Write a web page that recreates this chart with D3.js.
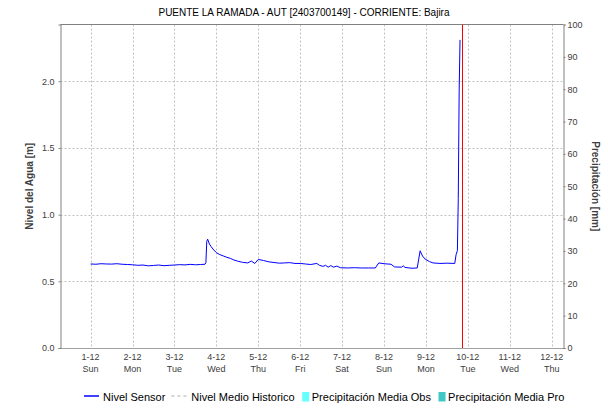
<!DOCTYPE html>
<html>
<head>
<meta charset="utf-8">
<script src="https://cdn.jsdelivr.net/npm/d3@7"></script>
<style>
  html, body { margin: 0; padding: 0; background: #fff; }
  svg { display: block; font-family: "Liberation Sans", Arial, sans-serif; }
</style>
</head>
<body>
<svg id="chart" width="608" height="411"></svg>
<script>
// Station water level (Nivel Sensor), Dec 2024
const sensorTimes = [
  "2024-12-01 00:00","2024-12-01 03:00","2024-12-01 06:00","2024-12-01 09:00","2024-12-01 12:00","2024-12-01 15:00","2024-12-01 18:00","2024-12-01 21:00",
  "2024-12-02 00:00","2024-12-02 03:00","2024-12-02 06:00","2024-12-02 09:00","2024-12-02 12:00","2024-12-02 15:00","2024-12-02 18:00","2024-12-02 21:00",
  "2024-12-03 00:00","2024-12-03 03:00","2024-12-03 06:00","2024-12-03 09:00","2024-12-03 12:00","2024-12-03 15:00","2024-12-03 17:30","2024-12-03 18:00",
  "2024-12-03 18:30","2024-12-03 19:00","2024-12-03 20:00","2024-12-03 21:00","2024-12-03 22:30",
  "2024-12-04 00:00","2024-12-04 02:00","2024-12-04 04:00","2024-12-04 06:00","2024-12-04 08:00","2024-12-04 10:00","2024-12-04 12:00","2024-12-04 15:00",
  "2024-12-04 18:00","2024-12-04 20:00","2024-12-04 22:00",
  "2024-12-05 00:00","2024-12-05 03:00","2024-12-05 06:00","2024-12-05 09:00","2024-12-05 12:00","2024-12-05 15:00","2024-12-05 18:00","2024-12-05 21:00",
  "2024-12-06 00:00","2024-12-06 03:00","2024-12-06 06:00","2024-12-06 09:30","2024-12-06 11:00","2024-12-06 13:00","2024-12-06 14:30","2024-12-06 16:00",
  "2024-12-06 17:30","2024-12-06 19:00","2024-12-06 21:00","2024-12-06 23:00",
  "2024-12-07 03:00","2024-12-07 07:00","2024-12-07 11:00","2024-12-07 15:00","2024-12-07 19:00","2024-12-07 21:00",
  "2024-12-08 00:00","2024-12-08 04:00","2024-12-08 06:00","2024-12-08 10:00","2024-12-08 11:00","2024-12-08 12:00","2024-12-08 16:00","2024-12-08 19:00",
  "2024-12-08 20:40","2024-12-08 22:00","2024-12-08 23:30",
  "2024-12-09 02:00","2024-12-09 04:00","2024-12-09 08:00","2024-12-09 12:00","2024-12-09 16:30","2024-12-09 17:15","2024-12-09 18:00","2024-12-09 18:30",
  "2024-12-09 19:00","2024-12-09 19:30"
];
const sensorLevels = [
  0.630,0.628,0.632,0.630,0.629,0.632,0.628,0.626,
  0.624,0.620,0.622,0.616,0.619,0.622,0.617,0.620,
  0.622,0.625,0.623,0.627,0.624,0.626,0.628,0.640,
  0.800,0.816,0.780,0.760,0.735,
  0.715,0.700,0.690,0.680,0.672,0.660,0.652,0.642,
  0.638,0.652,0.634,
  0.664,0.656,0.646,0.641,0.636,0.638,0.640,0.634,
  0.634,0.630,0.626,0.634,0.620,0.612,0.620,0.606,
  0.618,0.606,0.614,0.602,
  0.600,0.602,0.600,0.600,0.600,0.638,
  0.632,0.628,0.608,0.606,0.616,0.604,0.598,0.600,
  0.729,0.690,0.667,
  0.648,0.638,0.634,0.636,0.634,0.700,0.730,1.120,
  1.920,2.310
];

// Axis ticks and labels
const dayTicks = ["2024-12-01","2024-12-02","2024-12-03","2024-12-04","2024-12-05","2024-12-06",
                  "2024-12-07","2024-12-08","2024-12-09","2024-12-10","2024-12-11","2024-12-12"];
const levelTicks = [0, 0.5, 1.0, 1.5, 2.0];
const rainTicks = [0,10,20,30,40,50,60,70,80,90,100];
const timeWindow = ["2024-11-30 06:45", "2024-12-12 06:45"];
const nowMarker = "2024-12-09 20:50";

const titleText = "PUENTE LA RAMADA - AUT [2403700149] - CORRIENTE: Bajira";
const legendItems = [
  {label: "Nivel Sensor", kind: "line", color: "#0000ff"},
  {label: "Nivel Medio Historico", kind: "dash", color: "#c8c8c8"},
  {label: "Precipitación Media Obs", kind: "box", color: "#66ffff"},
  {label: "Precipitación Media Pro", kind: "box", color: "#40c8c8"}
];

const parseT = d3.timeParse("%Y-%m-%d %H:%M");
const parseD = d3.timeParse("%Y-%m-%d");
const sensor = sensorTimes.map((t, i) => ({t: parseT(t), v: sensorLevels[i]}));

const svg = d3.select("#chart");
const W = 608, H = 411;
const L = 60.5, R = 563.5, T = 24.5, B = 348;

svg.append("rect").attr("width", W).attr("height", H).attr("fill", "#fff");

const x = d3.scaleTime().domain(timeWindow.map(parseT)).range([L, R]);
const yMax = d3.max(sensorLevels) * 1.05;
const y = d3.scaleLinear().domain([0, yMax]).range([B, T]);
const yR = d3.scaleLinear().domain([0, 100]).range([B, T]);

const grid = svg.append("g").attr("stroke", "#c0c0c0").attr("stroke-width", 1).attr("stroke-dasharray", "2,2");
// vertical day grid
grid.selectAll("line.v").data(dayTicks.map(parseD)).join("line")
  .attr("x1", d => Math.round(x(d)) + 0.5).attr("x2", d => Math.round(x(d)) + 0.5)
  .attr("y1", T).attr("y2", B);
// horizontal level grid
grid.selectAll("line.h").data(levelTicks.filter(d => d > 0)).join("line")
  .attr("x1", L).attr("x2", R)
  .attr("y1", d => Math.round(y(d)) + 0.5).attr("y2", d => Math.round(y(d)) + 0.5);

// frame: top solid, bottom dotted
svg.append("line").attr("x1", L).attr("x2", R).attr("y1", T).attr("y2", T).attr("stroke", "#808080");
svg.append("line").attr("x1", L).attr("x2", R).attr("y1", B + 0.5).attr("y2", B + 0.5)
  .attr("stroke", "#404040").attr("stroke-dasharray", "1,1");

// left axis
const gL = svg.append("g").attr("transform", `translate(${L},0)`)
  .call(d3.axisLeft(y).tickValues(levelTicks).tickFormat(d3.format(".1f")).tickSize(2).tickPadding(4));
// right axis
const gR = svg.append("g").attr("transform", `translate(${R},0)`)
  .call(d3.axisRight(yR).tickValues(rainTicks).tickSize(2).tickPadding(2));
[gL, gR].forEach(g => {
  g.select(".domain").attr("stroke", "#808080");
  g.selectAll(".tick line").attr("stroke", "#808080");
  g.selectAll(".tick text").attr("fill", "#404040").style("font-size", "9px");
});

// bottom day labels (two lines)
const fmtDay = d3.timeFormat("%-d-%-m");
const fmtWk = d3.timeFormat("%a");
const xl = svg.append("g").attr("fill", "#404040").style("font-size", "9px").attr("text-anchor", "middle");
dayTicks.map(parseD).forEach(d => {
  const t = xl.append("text").attr("x", x(d)).attr("y", 360);
  t.append("tspan").attr("x", x(d)).text(fmtDay(d));
  t.append("tspan").attr("x", x(d)).attr("dy", 12).text(fmtWk(d));
});

// sensor line
svg.append("path").datum(sensor)
  .attr("fill", "none").attr("stroke", "#0000ff").attr("stroke-width", 1)
  .attr("d", d3.line().x(d => x(d.t)).y(d => y(d.v)));

// current time marker
const nx = Math.round(x(parseT(nowMarker))) + 0.5;
svg.append("line").attr("x1", nx).attr("x2", nx).attr("y1", T).attr("y2", B)
  .attr("stroke", "#ff0000").attr("stroke-width", 1);

// title
svg.append("text").attr("x", 304).attr("y", 16).attr("text-anchor", "middle")
  .style("font-size", "10px").attr("fill", "#000").text(titleText);

// axis labels
svg.append("text").attr("transform", `translate(33,${(T + B) / 2}) rotate(-90)`)
  .attr("text-anchor", "middle").style("font-size", "10px").style("font-weight", "bold")
  .attr("fill", "#404040").text("Nivel del Agua [m]");
svg.append("text").attr("transform", `translate(592,${(T + B) / 2}) rotate(90)`)
  .attr("text-anchor", "middle").style("font-size", "10px").style("font-weight", "bold")
  .attr("fill", "#404040").text("Precipitación [mm]");

// legend
const lg = svg.append("g").style("font-size", "11px");
let lx = 84;
const ly = 396.5;
legendItems.forEach((it, i) => {
  if (it.kind === "line") {
    lg.append("line").attr("x1", lx).attr("x2", lx + 15).attr("y1", ly - 0.5).attr("y2", ly - 0.5)
      .attr("stroke", it.color).attr("stroke-width", 1.5);
    lx += 19;
  } else if (it.kind === "dash") {
    lg.append("line").attr("x1", lx).attr("x2", lx + 15).attr("y1", ly - 0.5).attr("y2", ly - 0.5)
      .attr("stroke", it.color).attr("stroke-width", 1.5).attr("stroke-dasharray", "3,3");
    lx += 20;
  } else {
    lg.append("rect").attr("x", lx).attr("y", ly - 4.5).attr("width", 7).attr("height", 9.5).attr("fill", it.color);
    lx += 9.6;
  }
  const t = lg.append("text").attr("x", lx).attr("y", ly + 4).attr("fill", "#000").text(it.label);
  lx += t.node().getComputedTextLength() + (i === 0 ? 6 : 7.5);
});
</script>
</body>
</html>
